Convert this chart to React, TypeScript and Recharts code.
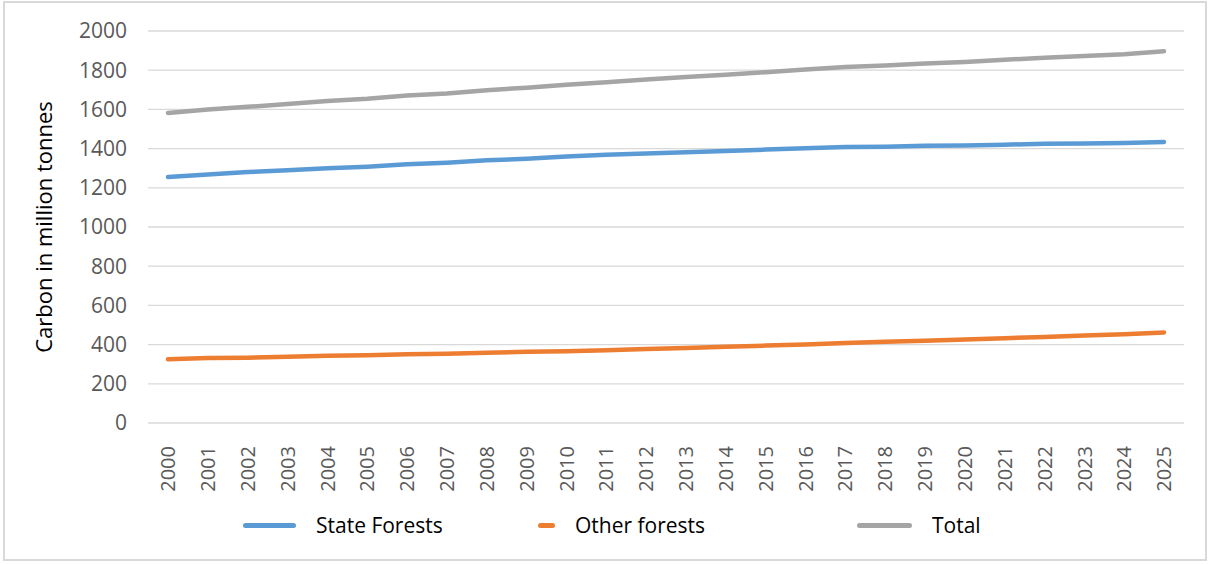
import React from "react";
import { LineChart, Line, XAxis, YAxis, CartesianGrid } from "recharts";

const years = [
  "2000", "2001", "2002", "2003", "2004", "2005", "2006", "2007", "2008", "2009",
  "2010", "2011", "2012", "2013", "2014", "2015", "2016", "2017", "2018", "2019",
  "2020", "2021", "2022", "2023", "2024", "2025",
];

const stateForests = [
  1255, 1268, 1280, 1290, 1300, 1308, 1320, 1328, 1340, 1348,
  1360, 1368, 1375, 1382, 1388, 1395, 1402, 1408, 1410, 1414,
  1416, 1420, 1425, 1426, 1428, 1434,
];

const otherForests = [
  325, 331, 333, 338, 343, 346, 351, 353, 358, 363,
  366, 371, 377, 383, 389, 395, 401, 408, 414, 420,
  426, 433, 439, 446, 453, 462,
];

const total = [
  1582, 1599, 1613, 1628, 1643, 1654, 1671, 1681, 1698, 1711,
  1726, 1739, 1752, 1765, 1777, 1790, 1803, 1816, 1824, 1834,
  1842, 1853, 1864, 1872, 1881, 1897,
];

const yTicks = [0, 200, 400, 600, 800, 1000, 1200, 1400, 1600, 1800, 2000];

const FONT = "'Open Sans', sans-serif";

const data = years.map((y, i) => ({
  year: y,
  state: stateForests[i],
  other: otherForests[i],
  total: total[i],
}));

const legendItems = [
  { label: "State Forests", color: "#5b9bd5", line: 53, left: 243 },
  { label: "Other forests", color: "#ed7d31", line: 17, left: 538 },
  { label: "Total", color: "#a5a5a5", line: 55, left: 857 },
];

function YearTick(props: any) {
  const { x, y, payload } = props;
  return (
    <text
      x={x}
      y={y}
      transform={`rotate(-90, ${x}, ${y})`}
      textAnchor="end"
      dy="0.36em"
      dx={-15}
      fill="#595959"
      fontSize={20}
      fontFamily={FONT}
    >
      {payload.value}
    </text>
  );
}

export default function App() {
  return (
    <div
      style={{
        position: "absolute",
        left: 0,
        top: 0,
        width: 1212,
        height: 565,
        background: "#fff",
      }}
    >
      <div
        style={{
          position: "absolute",
          left: 3,
          top: 1,
          width: 1204,
          height: 560,
          border: "2px solid #d9d9d9",
          boxSizing: "border-box",
        }}
      />
      <LineChart
        width={1212}
        height={565}
        data={data}
        margin={{ top: 31, right: 28, bottom: 112, left: 0 }}
      >
        <CartesianGrid vertical={false} stroke="#d9d9d9" strokeWidth={1.3} />
        <XAxis
          dataKey="year"
          height={30}
          axisLine={false}
          tickLine={false}
          interval={0}
          padding={{ left: 20, right: 20 }}
          tick={<YearTick />}
        />
        <YAxis
          domain={[0, 2000]}
          ticks={yTicks}
          width={148}
          axisLine={false}
          tickLine={false}
          tickSize={0}
          tickMargin={21}
          tick={{ fill: "#595959", fontSize: 21, fontFamily: FONT }}
          label={{
            value: "Carbon in million tonnes",
            angle: -90,
            position: "insideLeft",
            offset: 44,
            style: { fill: "#000", fontSize: 22, fontFamily: FONT, textAnchor: "middle" },
          }}
        />
        <Line
          dataKey="state"
          name="State Forests"
          stroke="#5b9bd5"
          strokeWidth={4.5}
          strokeLinecap="round"
          dot={false}
          isAnimationActive={false}
        />
        <Line
          dataKey="other"
          name="Other forests"
          stroke="#ed7d31"
          strokeWidth={4.5}
          strokeLinecap="round"
          dot={false}
          isAnimationActive={false}
        />
        <Line
          dataKey="total"
          name="Total"
          stroke="#a5a5a5"
          strokeWidth={4.5}
          strokeLinecap="round"
          dot={false}
          isAnimationActive={false}
        />
      </LineChart>
      {legendItems.map((it) => (
        <div
          key={it.label}
          style={{
            position: "absolute",
            left: it.left,
            top: 511,
            height: 28,
            display: "flex",
            alignItems: "center",
            fontFamily: FONT,
            fontSize: 21,
            color: "#000",
          }}
        >
          <span
            style={{
              display: "inline-block",
              width: it.line,
              height: 5,
              borderRadius: 3,
              background: it.color,
              marginRight: 20,
            }}
          />
          <span>{it.label}</span>
        </div>
      ))}
    </div>
  );
}
